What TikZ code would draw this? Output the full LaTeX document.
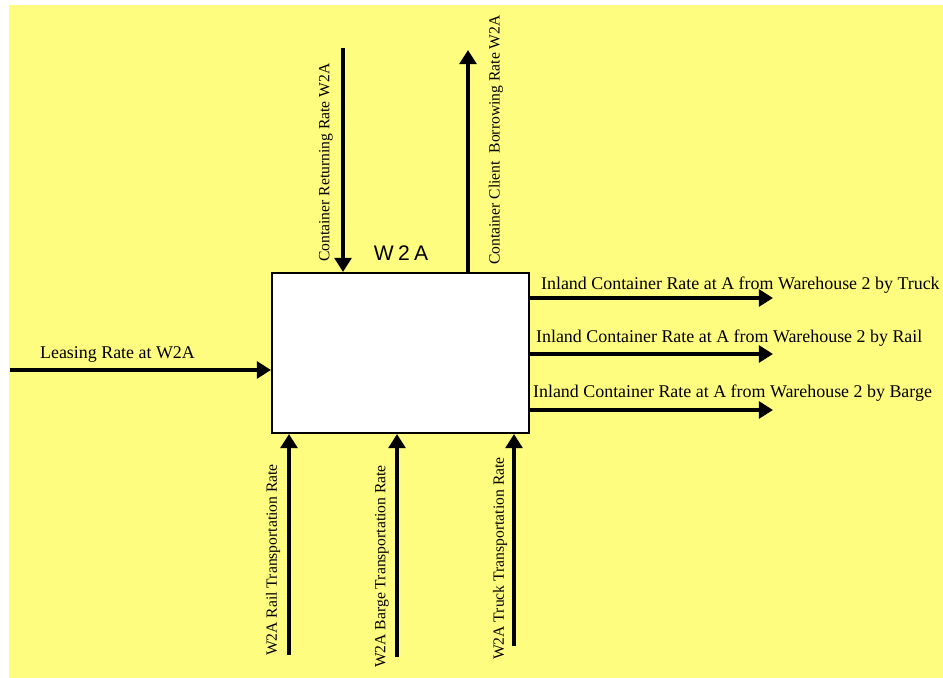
\documentclass[tikz,border=0pt]{standalone}
\usepackage{fontspec}
\setmainfont{Liberation Serif}
\newfontfamily\titlefont{Liberation Sans}[LetterSpace=20]
\usetikzlibrary{arrows.meta}
\definecolor{sheetyellow}{RGB}{255,253,128}

\begin{document}
\begin{tikzpicture}[x=0.02cm, y=-0.02cm,
  every node/.style={font=\fontsize{10.2}{12}\selectfont, inner sep=1pt},
  flow/.style={line width=2pt, -{Triangle[width=9.5pt,length=8pt]}},
  func/.style={draw, fill=white, line width=1.2pt, minimum width=5.14cm, minimum height=3.2cm, inner sep=0pt},
  vlabel/.style={rotate=90, anchor=west, font=\fontsize{8.9}{11}\selectfont}]

% the sheet
\useasboundingbox (0,0) rectangle (943,678);
\fill[sheetyellow] (9,5) rectangle (943,678);

% the activity box and its name
\node[func] (w2a) at (400.5,353) {};
\node[font=\titlefont\fontsize{12}{14}\selectfont] (w2aname) at (401,253) {W2A};

% controls on top: one coming in, one going out
\coordinate (ret) at (343,48);
\coordinate (bor) at (468,50);
\draw[flow] (ret) -- (ret |- w2a.north);
\draw[flow] (bor |- w2a.north) -- (bor);
\node[vlabel] (retlabel) at (326,264) {Container Returning Rate W2A};
\node[vlabel] (borlabel) at (496,267) {Container Client\ \ Borrowing Rate W2A};

% input from the left
\coordinate (lease) at (10,370);
\draw[flow] (lease) -- (lease -| w2a.west);
\node[anchor=south west] (leaselabel) at (38,364) {Leasing Rate at W2A};

% outputs to the right
\coordinate (otruck) at (773,298);
\coordinate (orail) at (773,354);
\coordinate (obarge) at (773,410);
\draw[flow] (otruck -| w2a.east) -- (otruck);
\draw[flow] (orail -| w2a.east) -- (orail);
\draw[flow] (obarge -| w2a.east) -- (obarge);
\node[anchor=west] (otrucklabel) at (539,285) {Inland Container Rate at A from Warehouse 2 by Truck};
\node[anchor=west] (orailabel) at (534,338) {Inland Container Rate at A from Warehouse 2 by Rail};
\node[anchor=west] (obargelabel) at (531,393) {Inland Container Rate at A from Warehouse 2 by Barge};

% mechanisms from below
\coordinate (mrail) at (289,655);
\coordinate (mbarge) at (397,657);
\coordinate (mtruck) at (514,646);
\draw[flow] (mrail) -- (mrail |- w2a.south);
\draw[flow] (mbarge) -- (mbarge |- w2a.south);
\draw[flow] (mtruck) -- (mtruck |- w2a.south);
\node[vlabel] (mraillabel) at (273,658) {W2A Rail Transportation Rate};
\node[vlabel] (mbargelabel) at (382,670) {W2A Barge Transportation Rate};
\node[vlabel] (mtrucklabel) at (500,662) {W2A Truck Transportation Rate};

\end{tikzpicture}
\end{document}
